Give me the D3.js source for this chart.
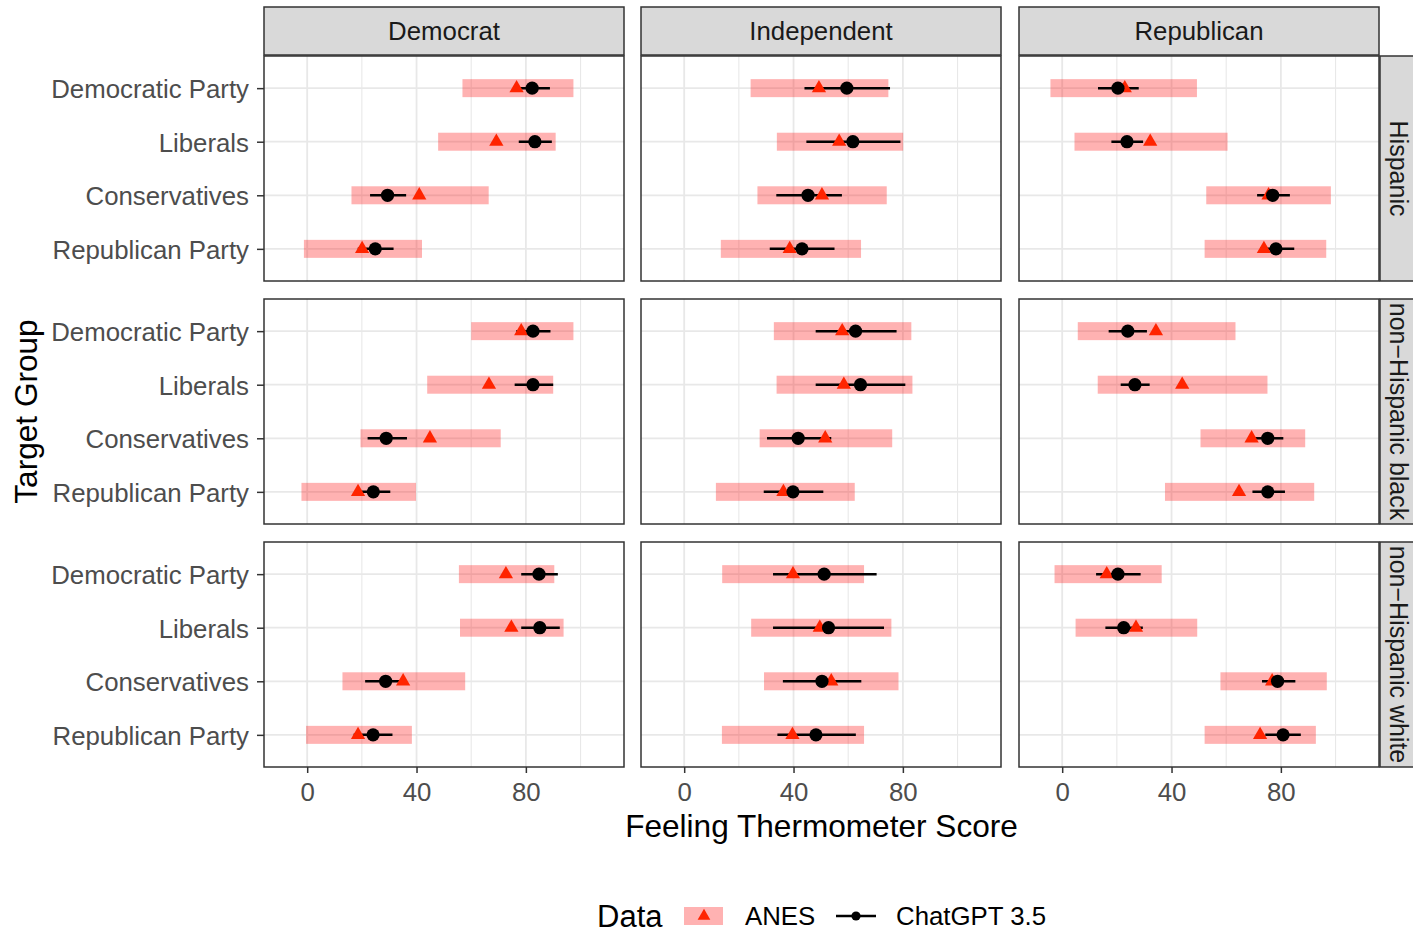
<!DOCTYPE html>
<html>
<head>
<meta charset="utf-8">
<script src="https://cdn.jsdelivr.net/npm/d3@7"></script>
<style>
    body { margin: 0; background: #fff; }
    text { font-family: "Liberation Sans", Arial, sans-serif; }
</style>
</head>
<body>
<div class="thermo-chart"></div>
<script>
// Data.
let parties = ['Democrat', 'Independent', 'Republican'];
let groups = ['Hispanic', 'non\u2212Hispanic black', 'non\u2212Hispanic white'];
let targets = ['Democratic Party', 'Liberals', 'Conservatives', 'Republican Party'];

// [group][party][target]
let anesLow = [
    [[56.8, 47.9, 16.2, -1.2], [24.3, 33.9, 26.8, 13.4], [-4.3, 4.5, 52.7, 52.1]],
    [[60.0, 43.9, 19.5, -2.1], [32.8, 33.8, 27.6, 11.6], [5.7, 13.0, 50.6, 37.6]],
    [[55.5, 55.9, 12.9, -0.4], [13.9, 24.5, 29.2, 13.8], [-2.8, 4.9, 57.9, 52.1]]
];
let anesHigh = [
    [[97.4, 90.9, 66.4, 42.0], [74.7, 80.1, 74.1, 64.7], [49.3, 60.5, 98.3, 96.6]],
    [[97.4, 90.0, 70.8, 39.8], [83.1, 83.5, 76.1, 62.4], [63.4, 75.1, 88.9, 92.2]],
    [[90.4, 93.8, 57.8, 38.3], [65.8, 75.8, 78.4, 65.8], [36.4, 49.4, 96.8, 92.8]]
];
let anesMean = [
    [[76.6, 69.2, 41.0, 20.1], [49.3, 56.7, 50.4, 38.6], [22.9, 32.2, 75.5, 73.8]],
    [[78.3, 66.5, 44.9, 18.6], [57.8, 58.4, 51.6, 36.3], [34.3, 43.9, 69.3, 64.7]],
    [[72.7, 74.7, 35.1, 18.6], [39.8, 49.6, 53.8, 39.6], [16.3, 27.0, 76.8, 72.4]]
];
let gptMean = [
    [[82.3, 83.3, 29.4, 24.9], [59.5, 61.7, 45.3, 43.1], [20.4, 23.7, 77.0, 78.2]],
    [[82.6, 82.6, 28.9, 24.2], [62.7, 64.5, 41.7, 39.8], [24.0, 26.6, 75.2, 75.2]],
    [[84.8, 85.1, 28.7, 24.1], [51.2, 52.8, 50.4, 48.2], [20.4, 22.5, 78.8, 80.8]]
];
let gptLow = [
    [[76.0, 77.4, 23.0, 18.5], [44.0, 44.7, 33.7, 31.3], [13.1, 18.0, 71.3, 72.4]],
    [[76.5, 75.9, 22.1, 18.5], [48.1, 48.1, 30.3, 29.1], [17.0, 21.4, 69.5, 69.6]],
    [[78.3, 78.3, 21.2, 17.0], [32.5, 32.5, 36.1, 34.1], [12.4, 15.8, 73.1, 74.3]]
];
let gptHigh = [
    [[88.8, 89.5, 36.2, 31.6], [75.3, 79.1, 57.7, 55.0], [28.0, 29.6, 83.3, 84.9]],
    [[89.0, 90.0, 36.5, 30.4], [77.7, 80.9, 53.8, 50.9], [31.0, 32.0, 80.9, 81.5]],
    [[91.7, 92.4, 36.2, 31.2], [70.4, 73.1, 64.8, 62.8], [28.7, 29.5, 85.3, 87.3]]
];
let xTicks = [0, 40, 80];
let xMinor = [20, 60, 100];

// Build constants.
let width = 1413,
    height = 933,
    panelW = 360,
    panelH = 225,
    colX = [264, 641, 1019],
    rowY = [56, 299, 542],
    stripTop = 7,
    stripH = 48,
    border = '#333333',
    gridColor = '#e8e8e8',
    anesColor = '#ff2400',
    smallFont = '25.8px',
    bigFont = '31.6px';

let svg = d3.select('.thermo-chart')
    .append('svg')
        .attr('width', width)
        .attr('height', height);

// Build scales.
let x = d3.scaleLinear()
    .domain([-15.8, 115.9])
    .range([0, panelW]);

let y = d3.scalePoint()
    .domain(targets)
    .range([0, panelH])
    .padding(0.6);

let triangle = d3.symbol(d3.symbolTriangle, 88);

// Draw panels.
groups.forEach((group, r) => {
    parties.forEach((party, c) => {
        let rows = targets.map((t, i) => ({
            target: t,
            lo: anesLow[r][c][i],
            hi: anesHigh[r][c][i],
            mean: anesMean[r][c][i],
            gpt: gptMean[r][c][i],
            gLo: gptLow[r][c][i],
            gHi: gptHigh[r][c][i]
        }));

        let g = svg.append('g')
            .attr('transform', `translate(${colX[c]}, ${rowY[r]})`);

        g.append('rect')
            .attr('width', panelW)
            .attr('height', panelH)
            .attr('fill', '#fff');

        // Grid.
        g.selectAll('.minor')
            .data(xMinor)
            .join('line')
                .attr('x1', d => x(d)).attr('x2', d => x(d))
                .attr('y1', 0).attr('y2', panelH)
                .attr('stroke', gridColor)
                .attr('stroke-width', 1.1);

        g.selectAll('.major')
            .data(xTicks)
            .join('line')
                .attr('x1', d => x(d)).attr('x2', d => x(d))
                .attr('y1', 0).attr('y2', panelH)
                .attr('stroke', gridColor)
                .attr('stroke-width', 1.8);

        g.selectAll('.hgrid')
            .data(targets)
            .join('line')
                .attr('x1', 0).attr('x2', panelW)
                .attr('y1', d => y(d)).attr('y2', d => y(d))
                .attr('stroke', gridColor)
                .attr('stroke-width', 1.8);

        // ANES range.
        g.selectAll('.band')
            .data(rows)
            .join('rect')
                .attr('x', d => x(d.lo))
                .attr('width', d => x(d.hi) - x(d.lo))
                .attr('y', d => y(d.target) - 9)
                .attr('height', 18)
                .attr('fill', 'red')
                .attr('fill-opacity', 0.3);

        // ChatGPT interval.
        g.selectAll('.gptbar')
            .data(rows)
            .join('line')
                .attr('x1', d => x(d.gLo))
                .attr('x2', d => x(d.gHi))
                .attr('y1', d => y(d.target))
                .attr('y2', d => y(d.target))
                .attr('stroke', '#000')
                .attr('stroke-width', 2.5);

        // ANES mean.
        g.selectAll('.tri')
            .data(rows)
            .join('path')
                .attr('d', triangle)
                .attr('transform', d => `translate(${x(d.mean)}, ${y(d.target)})`)
                .attr('fill', anesColor);

        // ChatGPT mean.
        g.selectAll('.dot')
            .data(rows)
            .join('circle')
                .attr('cx', d => x(d.gpt))
                .attr('cy', d => y(d.target))
                .attr('r', 6.6)
                .attr('fill', '#000');

        g.append('rect')
            .attr('width', panelW)
            .attr('height', panelH)
            .attr('fill', 'none')
            .attr('stroke', border)
            .attr('stroke-width', 1.5);

        // Axes.
        if (c === 0) {
            let ax = g.append('g')
                .call(d3.axisLeft(y).tickSize(7).tickPadding(8));
            ax.select('.domain').remove();
            ax.selectAll('line').attr('stroke', border).attr('stroke-width', 1.5);
            ax.selectAll('text')
                .attr('fill', '#4d4d4d')
                .style('font-size', smallFont)
                .attr('dy', '0.36em');
        }
        if (r === groups.length - 1) {
            let ax = g.append('g')
                .attr('transform', `translate(0, ${panelH})`)
                .call(d3.axisBottom(x).tickValues(xTicks).tickSize(6).tickPadding(10));
            ax.select('.domain').remove();
            ax.selectAll('line').attr('stroke', border).attr('stroke-width', 1.5);
            ax.selectAll('text')
                .attr('fill', '#4d4d4d')
                .style('font-size', smallFont);
        }
    });
});

// Top strips.
parties.forEach((party, c) => {
    svg.append('rect')
        .attr('x', colX[c])
        .attr('y', stripTop)
        .attr('width', panelW)
        .attr('height', stripH)
        .attr('fill', '#d9d9d9')
        .attr('stroke', border)
        .attr('stroke-width', 1.5);
    svg.append('text')
        .attr('x', colX[c] + panelW / 2)
        .attr('y', 40)
        .attr('text-anchor', 'middle')
        .attr('fill', '#1a1a1a')
        .style('font-size', smallFont)
        .text(party);
});

// Right strips (cut by the page edge, as in the original).
groups.forEach((group, r) => {
    svg.append('rect')
        .attr('x', 1380)
        .attr('y', rowY[r])
        .attr('width', stripH)
        .attr('height', panelH)
        .attr('fill', '#d9d9d9')
        .attr('stroke', border)
        .attr('stroke-width', 1.5);
    svg.append('text')
        .attr('transform', `translate(1390, ${rowY[r] + panelH / 2}) rotate(90)`)
        .attr('text-anchor', 'middle')
        .attr('fill', '#1a1a1a')
        .style('font-size', '25px')
        .text(group);
});

// Axis titles.
svg.append('text')
    .attr('x', (colX[0] + colX[2] + panelW) / 2)
    .attr('y', 837)
    .attr('text-anchor', 'middle')
    .style('font-size', bigFont)
    .text('Feeling Thermometer Score');

svg.append('text')
    .attr('transform', `translate(37, ${rowY[0] + (rowY[2] + panelH - rowY[0]) / 2}) rotate(-90)`)
    .attr('text-anchor', 'middle')
    .style('font-size', bigFont)
    .text('Target Group');

// Legend.
let legend = svg.append('g');

legend.append('text')
    .attr('x', 597)
    .attr('y', 927)
    .style('font-size', '31px')
    .text('Data');

legend.append('rect')
    .attr('x', 684)
    .attr('y', 907)
    .attr('width', 39)
    .attr('height', 18)
    .attr('fill', 'red')
    .attr('fill-opacity', 0.3);

legend.append('path')
    .attr('d', d3.symbol(d3.symbolTriangle, 70)())
    .attr('transform', 'translate(704, 916)')
    .attr('fill', anesColor);

legend.append('text')
    .attr('x', 745)
    .attr('y', 925)
    .style('font-size', smallFont)
    .text('ANES');

legend.append('line')
    .attr('x1', 836).attr('x2', 876)
    .attr('y1', 916).attr('y2', 916)
    .attr('stroke', '#000')
    .attr('stroke-width', 2.5);

legend.append('circle')
    .attr('cx', 856)
    .attr('cy', 916)
    .attr('r', 4.6)
    .attr('fill', '#000');

legend.append('text')
    .attr('x', 896)
    .attr('y', 925)
    .style('font-size', smallFont)
    .text('ChatGPT 3.5');
</script>
</body>
</html>
